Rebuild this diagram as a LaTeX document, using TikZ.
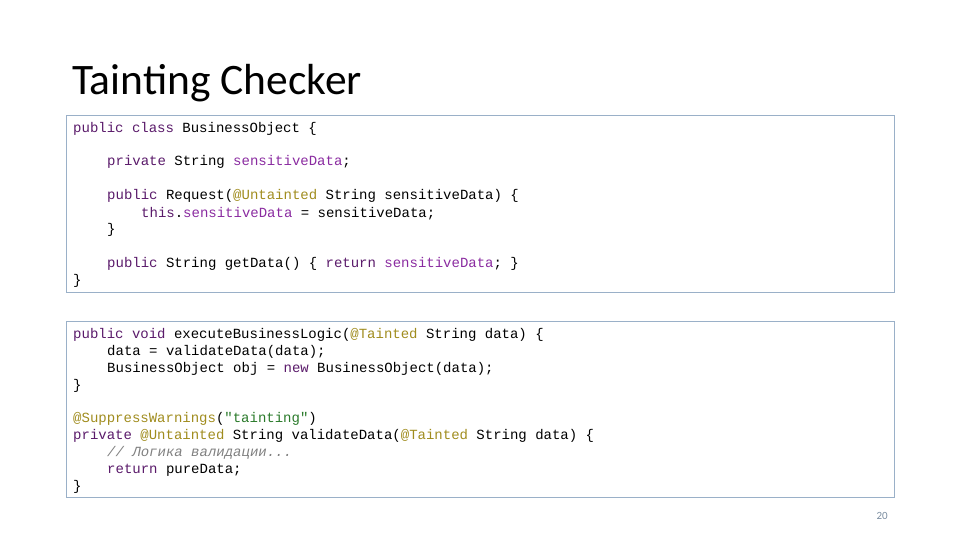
\documentclass[tikz,border=0pt]{standalone}
\usepackage{fontspec}
\setmainfont{Carlito}
\setmonofont{Liberation Mono}
\definecolor{kw}{HTML}{5A1A6A}
\definecolor{fld}{HTML}{8A2BA0}
\definecolor{ann}{HTML}{A08C1E}
\definecolor{str}{HTML}{2A7A2A}
\definecolor{cmt}{HTML}{808080}
\definecolor{bx}{HTML}{9AB0C8}
\newcommand{\K}[1]{\textcolor{kw}{#1}}
\newcommand{\F}[1]{\textcolor{fld}{#1}}
\newcommand{\A}[1]{\textcolor{ann}{#1}}
\begin{document}
\begin{tikzpicture}[x=1pt,y=-1pt,
  cl/.style={anchor=base west,inner sep=0pt,font=\fontsize{14}{16}\ttfamily},
  codebox/.style={draw=bx,line width=1pt}]
\useasboundingbox (0,0) rectangle (960,540);
\node[anchor=base west,inner sep=0pt,font=\fontsize{43.5}{46}\selectfont] (title) at (72,95) {Tainting Checker};
\draw[codebox] (66,116) rectangle (894,292);
\node[cl] (l1) at (73,133) {\K{public} \K{class} BusinessObject \{};
\node[cl] (l2) at (107,166) {\K{private} String \F{sensitiveData};};
\node[cl] (l3) at (107,200) {\K{public} Request(\A{@Untainted} String sensitiveData) \{};
\node[cl] (l4) at (141,217) {\K{this}.\F{sensitiveData} = sensitiveData;};
\node[cl] (l5) at (107,233) {\}};
\node[cl] (l6) at (107,267) {\K{public} String getData() \{ \K{return} \F{sensitiveData}; \}};
\node[cl] (l7) at (73,284) {\}};
\draw[codebox] (66,321) rectangle (894,497);
\node[cl] (m1) at (73,338) {\K{public} \K{void} executeBusinessLogic(\A{@Tainted} String data) \{};
\node[cl] (m2) at (107,355) {data = validateData(data);};
\node[cl] (m3) at (107,372) {BusinessObject obj = \K{new} BusinessObject(data);};
\node[cl] (m4) at (73,389) {\}};
\node[cl] (m5) at (73,422) {\A{@SuppressWarnings}(\textcolor{str}{"tainting"})};
\node[cl] (m6) at (73,439) {\K{private} \A{@Untainted} String validateData(\A{@Tainted} String data) \{};
\node[cl] (m7) at (107,456) {\textcolor{cmt}{\itshape // Логика валидации...}};
\node[cl] (m8) at (107,473) {\K{return} pureData;};
\node[cl] (m9) at (73,490) {\}};
\node[anchor=base east,inner sep=0pt,font=\fontsize{11}{12}\selectfont,text=bx!80!black] (pg) at (888,519) {20};
\end{tikzpicture}
\end{document}
